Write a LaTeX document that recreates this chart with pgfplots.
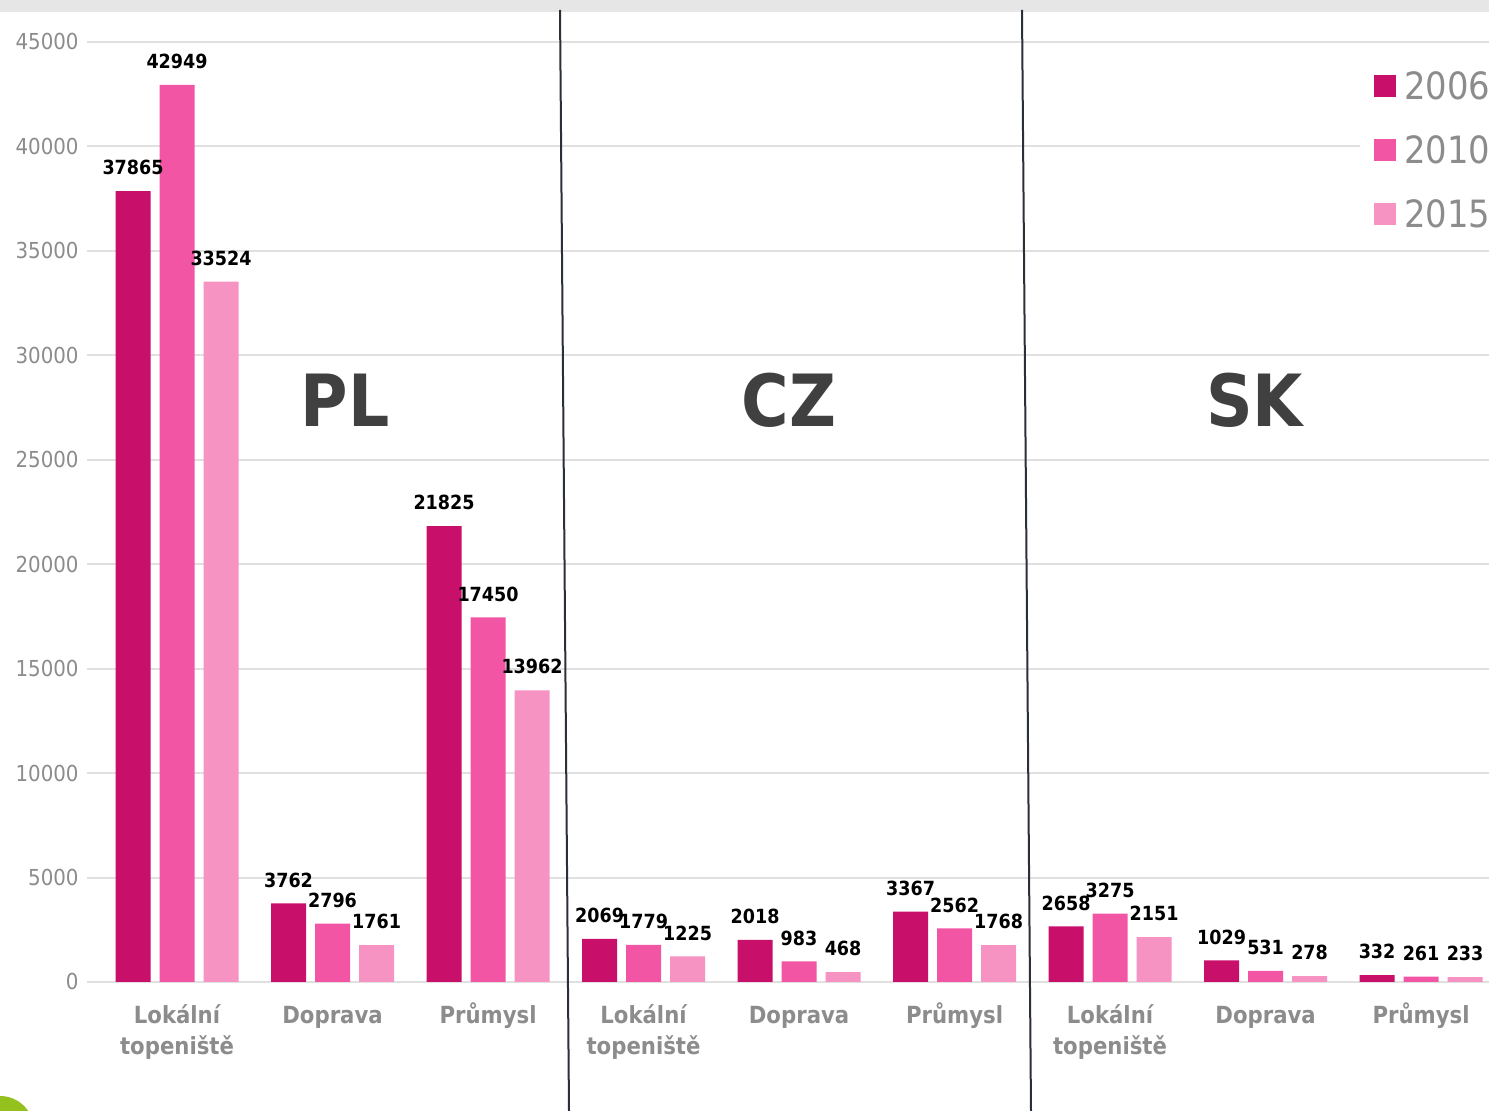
\documentclass[border=0pt]{standalone}
\usepackage{fontspec}
\setmainfont{DejaVuSansCondensed}[Extension=.ttf, BoldFont=DejaVuSansCondensed-Bold]
\usepackage{pgfplots}
\pgfplotsset{compat=1.18}
\definecolor{cA}{HTML}{C80F6A}
\definecolor{cB}{HTML}{F355A5}
\definecolor{cC}{HTML}{F693C3}
\definecolor{tickgray}{HTML}{8C8C8C}
\definecolor{gridgray}{HTML}{E0E0E0}
\definecolor{topgray}{HTML}{E6E6E6}
\definecolor{biggray}{HTML}{404040}
\definecolor{sepline}{HTML}{2B3038}
\definecolor{lime}{HTML}{95C11F}
\pgfplotsset{sqleg/.style={legend image code/.code={\fill[##1] (0pt,-5.5pt) rectangle (11pt,5.5pt);}}}
\newcommand\st{\rule{0pt}{12pt}}
\begin{document}
\begin{tikzpicture}
\useasboundingbox (0,0) rectangle (744.5pt,555.5pt);
\clip (0,0) rectangle (744.5pt,555.5pt);
\fill[white] (0,0) rectangle (744.5pt,555.5pt);
\fill[topgray] (0,549.5pt) rectangle (744.5pt,555.5pt);
\begin{axis}[
  at={(43.5pt,64.5pt)}, anchor=south west,
  scale only axis, width=701pt, height=470pt,
  xmin=-0.579, xmax=8.437, ymin=0, ymax=45000,
  ybar, bar width=0.225,
  axis line style={draw=none},
  tick style={draw=none},
  ytick={0,5000,...,45000},
  ymajorgrids, grid style={gridgray, line width=1pt},
  xtick={0,...,8},
  xticklabels={{\st Lokální\\topeniště},{\st Doprava},{\st Průmysl},{\st Lokální\\topeniště},{\st Doprava},{\st Průmysl},{\st Lokální\\topeniště},{\st Doprava},{\st Průmysl}},
  scaled y ticks=false,
  /pgf/number format/1000 sep={},
  /pgf/number format/assume math mode=true,
  yticklabel style={font=\fontsize{11}{13}\selectfont, text=tickgray, xshift=-0.7pt},
  xticklabel style={font=\fontsize{11.8}{15.5}\selectfont\bfseries, text=tickgray, align=center, yshift=-1pt},
  nodes near coords,
  every node near coord/.append style={font=\fontsize{9.75}{11}\selectfont\bfseries, text=black, yshift=4.5pt},
  clip=false,
  legend style={at={(rel axis cs:0.908,0.9872)}, anchor=north west, draw=none, fill=white,
    inner xsep=7pt, inner ysep=8pt, row sep=16.2pt, column sep=3pt,
    font=\fontsize{18.8}{18.8}\selectfont, text=tickgray,
    nodes={inner sep=1pt, text height=13.7pt, text depth=0pt}},
  legend cell align=left,
]
\addplot[fill=cA, draw=none, bar shift=-0.283, sqleg]
  coordinates {(0,37865) (1,3762) (2,21825) (3,2069) (4,2018) (5,3367) (6,2658) (7,1029) (8,332)};
\addplot[fill=cB, draw=none, bar shift=0, sqleg]
  coordinates {(0,42949) (1,2796) (2,17450) (3,1779) (4,983) (5,2562) (6,3275) (7,531) (8,261)};
\addplot[fill=cC, draw=none, bar shift=0.283, sqleg]
  coordinates {(0,33524) (1,1761) (2,13962) (3,1225) (4,468) (5,1768) (6,2151) (7,278) (8,233)};
\legend{2006,2010,2015}
\node[font=\fontsize{36}{36}\selectfont\bfseries, text=biggray, anchor=center] at (axis cs:1.08,27860) {PL};
\node[font=\fontsize{36}{36}\selectfont\bfseries, text=biggray, anchor=center] at (axis cs:3.936,27860) {CZ};
\node[font=\fontsize{36}{36}\selectfont\bfseries, text=biggray, anchor=center] at (axis cs:6.93,27860) {SK};
\end{axis}
\draw[sepline, line width=1pt] (280pt,550.5pt) -- (284.5pt,0pt);
\draw[sepline, line width=1pt] (511pt,550.5pt) -- (515.5pt,0pt);
\fill[lime] (0pt,-9.5pt) circle (17pt);
\end{tikzpicture}
\end{document}
